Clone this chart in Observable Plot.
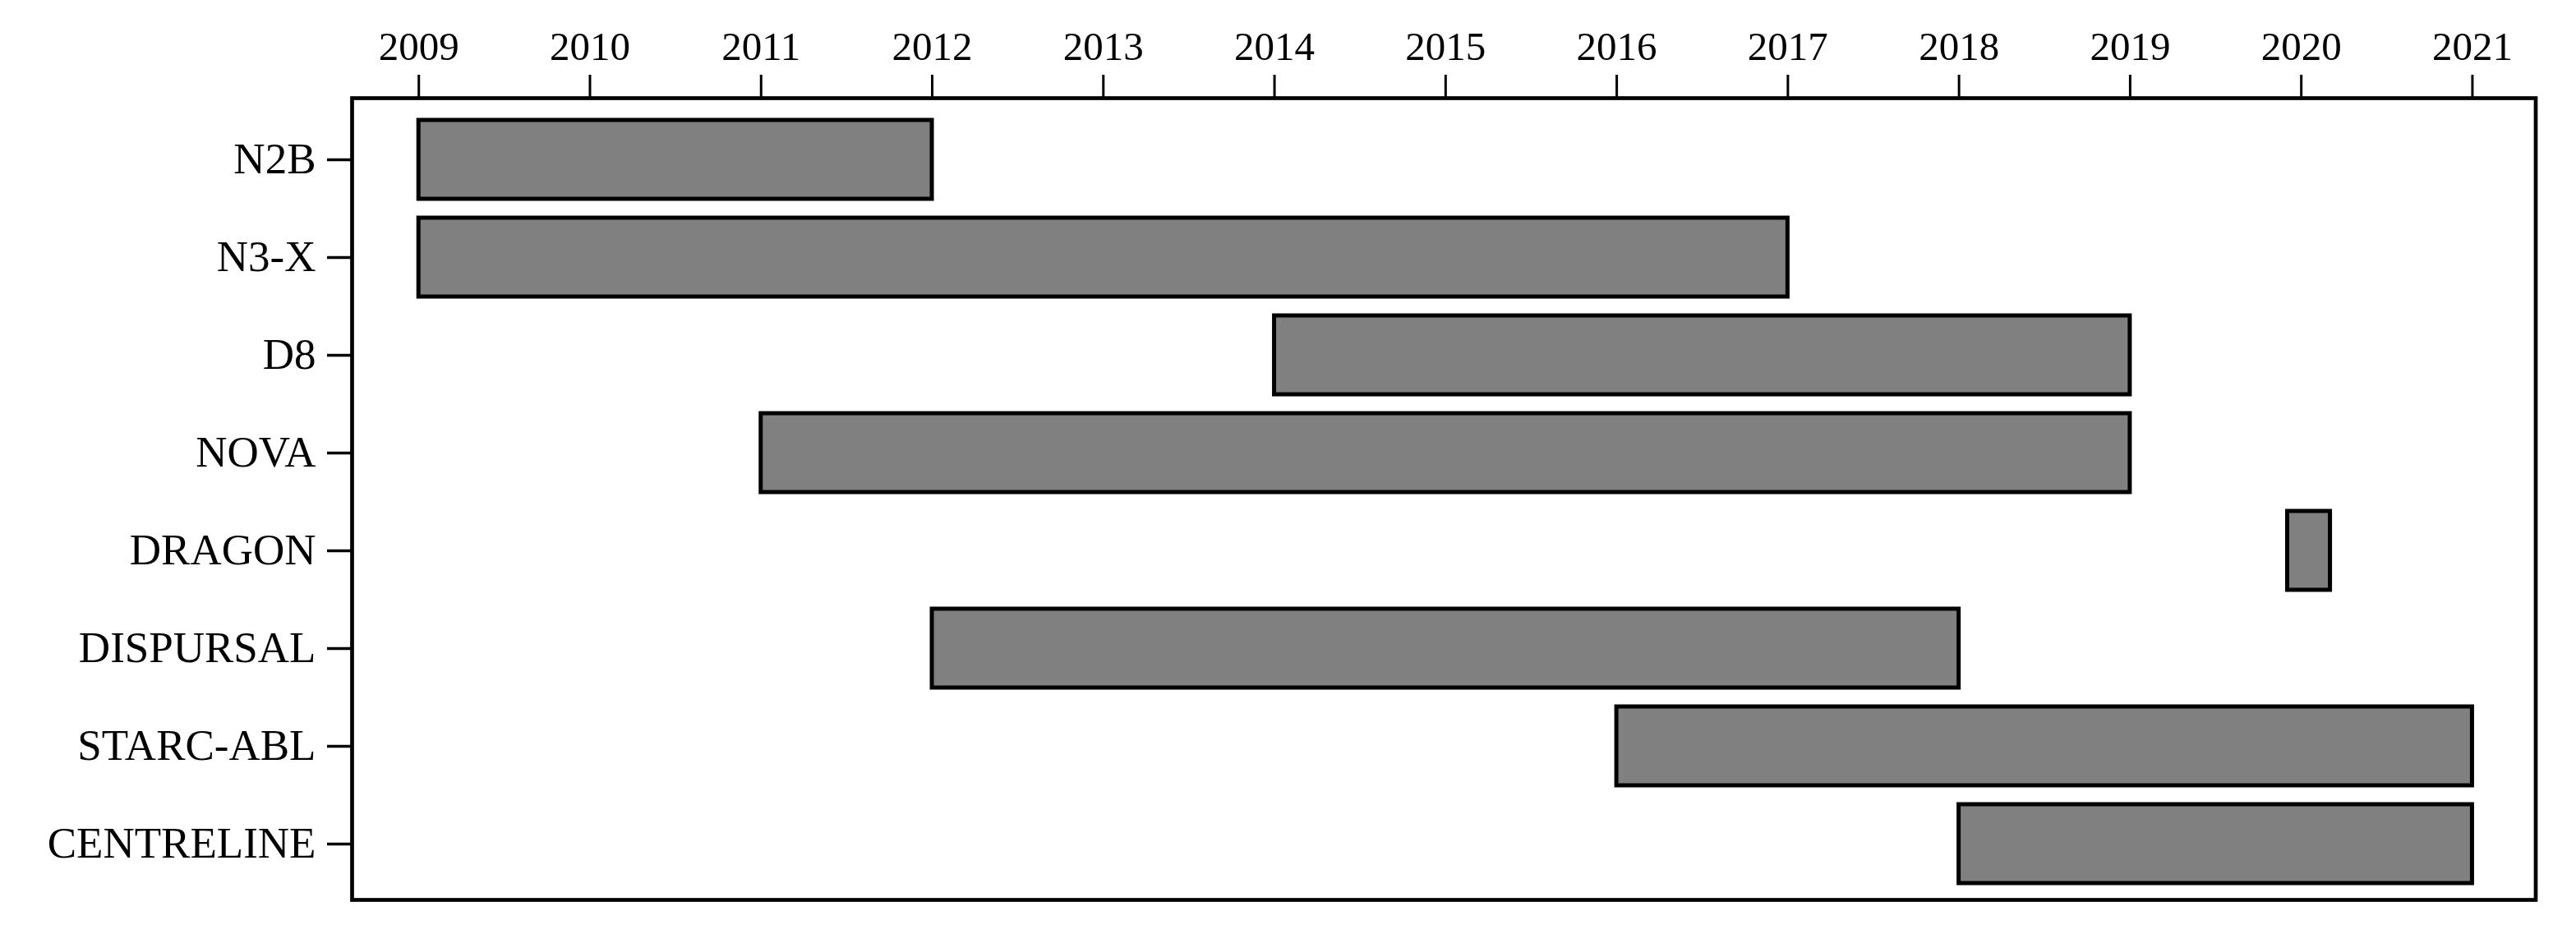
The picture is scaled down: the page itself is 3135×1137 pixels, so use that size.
<!DOCTYPE html>
<html>
<head>
<meta charset="utf-8">
<script src="https://cdn.jsdelivr.net/npm/d3@7"></script>
<script src="https://cdn.jsdelivr.net/npm/@observablehq/plot@0.6"></script>
<style>
  html, body { margin: 0; padding: 0; background: white; color: black; }
  #chart svg { display: block; }
</style>
</head>
<body>
<div id="chart"></div>
<script>
// Programs (top to bottom)
const programs = ["N2B", "N3-X", "D8", "NOVA", "DRAGON", "DISPURSAL", "STARC-ABL", "CENTRELINE"];
// Start and end years
const startYears = [2009, 2009, 2014, 2011, 2019.92, 2012, 2016, 2018];
const endYears   = [2012, 2017, 2019, 2019, 2020.17, 2018, 2021, 2021];
// Tick years
const tickYears = [2009, 2010, 2011, 2012, 2013, 2014, 2015, 2016, 2017, 2018, 2019, 2020, 2021];

const data = programs.map((name, i) => ({name, start: startYears[i], end: endYears[i]}));

const chart = Plot.plot({
  width: 3135,
  height: 1137,
  marginLeft: 428,
  marginRight: 49.5,
  marginTop: 119,
  marginBottom: 42,
  style: {fontFamily: "'Liberation Serif', serif", background: "white", color: "black"},
  x: {domain: [2008.61, 2021.37]},
  y: {domain: programs, paddingInner: 0.19, paddingOuter: 0.19, align: 0.57},
  marks: [
    Plot.barX(data, {x1: "start", x2: "end", y: "name", fill: "#808080", stroke: "black", strokeWidth: 5}),
    Plot.frame({stroke: "black", strokeWidth: 4.7}),
    Plot.axisX({anchor: "top", ticks: tickYears, tickFormat: d => String(d), tickSize: 29, tickPadding: 18, fontSize: 49, strokeWidth: 3, label: null}),
    Plot.axisY({anchor: "left", tickSize: 30, tickPadding: 14, fontSize: 53, strokeWidth: 3.5, label: null})
  ]
});
document.getElementById("chart").appendChild(chart);
</script>
</body>
</html>
